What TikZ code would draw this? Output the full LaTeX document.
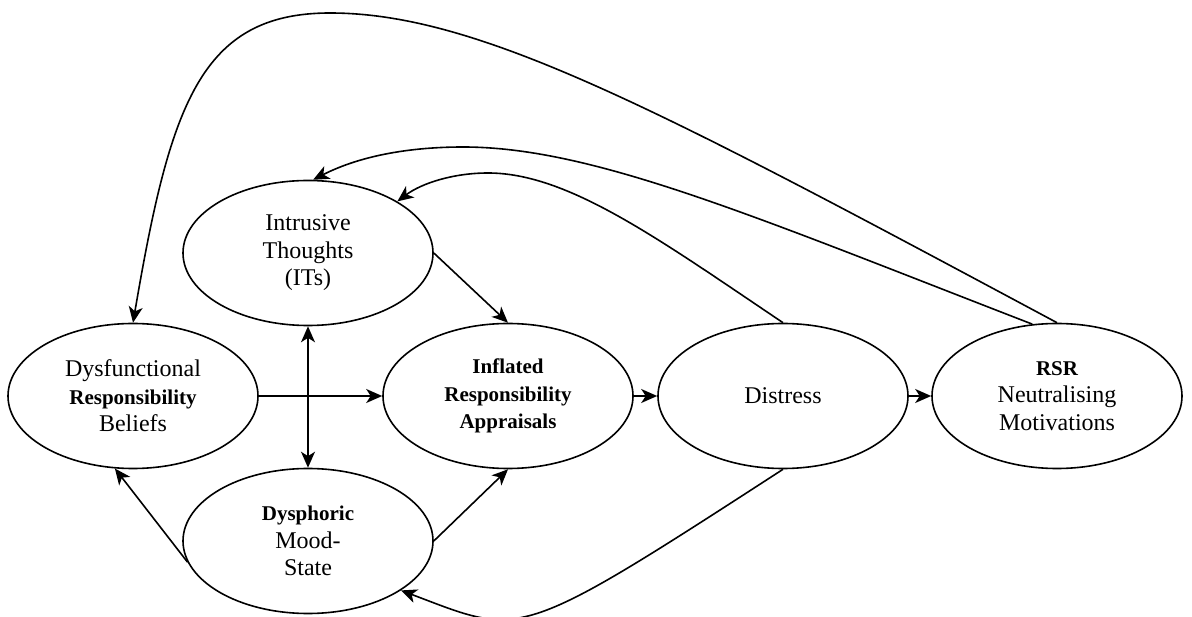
\documentclass[tikz,border=0pt]{standalone}
\usepackage{fontspec}
\setmainfont{LiberationSerif}[Extension=.ttf, UprightFont=*-Regular,
  BoldFont=*-Bold, ItalicFont=*-Italic, BoldItalicFont=*-BoldItalic]
\usetikzlibrary{shapes.geometric,arrows.meta}

\tikzset{
  concept/.style={draw, ellipse, line width=1.6pt, minimum width=250pt,
    minimum height=145pt, inner sep=0pt, align=center,
    font=\rmfamily\fontsize{24}{27.5}\selectfont},
  tip/.tip={Stealth[length=16pt,width=14pt,inset=4.5pt]},
  link/.style={line width=1.6pt, -tip},
  twoway/.style={line width=1.6pt, tip-tip}
}
\newcommand{\bt}[1]{{\fontsize{21}{27.5}\selectfont\bfseries #1}}

\begin{document}
\begin{tikzpicture}[x=1pt,y=-1pt]
\useasboundingbox (0,0) rectangle (1192,617);

% concepts
\node[concept] (drb)  at (133,396) {Dysfunctional\\\bt{Responsibility}\\Beliefs};
\node[concept] (its)  at (308,253) {Intrusive\\Thoughts\\(ITs)};
\node[concept] (ira)  at (508,396) {\bt{Inflated}\\\bt{Responsibility}\\\bt{Appraisals}};
\node[concept] (dist) at (783,396) {Distress};
\node[concept] (rsr)  at (1057,396) {\bt{RSR}\\Neutralising\\Motivations};
\node[concept] (dys)  at (308,541) {\bt{Dysphoric}\\Mood-\\State};

% direct links
\draw[link] (drb.east) -- (ira.west);
\draw[link] (ira.east) -- (dist.west);
\draw[link] (dist.east) -- (rsr.west);
\draw[link] (its.east) -- (ira.north);
\draw[link] (dys.east) -- (ira.south);
\draw[twoway] (its.south) -- (dys.north);
\draw[link] (dys.190) -- (drb.-104);

% feedback loops
\draw[link] (rsr.north) .. controls +(-396,-212) and +(150,0) .. (330,13)
  .. controls +(-130,0) and +(37,-217) .. (drb.north);
\draw[link] (rsr.109) .. controls +(-279,-108) and +(130,0) .. (463,147)
  .. controls +(-50,0) and +(49,-25) .. (its.86);
\draw[link] (dist.north) .. controls +(-125,-84) and +(80,0) .. (488,173)
  .. controls +(-35,0) and +(24,-18) .. (its.30);
\draw[link] (dist.south) .. controls +(-270,175) and +(122,46) .. (dys.-28);
\end{tikzpicture}
\end{document}
